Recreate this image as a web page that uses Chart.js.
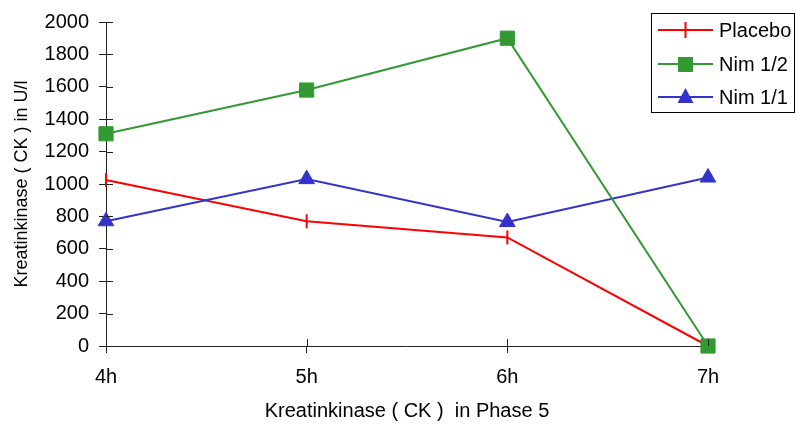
<!DOCTYPE html>
<html>
<head>
<meta charset="utf-8">
<script src="https://cdn.jsdelivr.net/npm/chart.js@4.4.1/dist/chart.umd.min.js"></script>
<style>
  html, body { margin: 0; padding: 0; background: #fff; }
  #wrap { width: 796px; height: 427px; }
</style>
</head>
<body>
<div id="wrap"><canvas id="ckChart" width="796" height="427"></canvas></div>
<script>
// Chart data
const hours = ['4h', '5h', '6h', '7h'];
const placebo = [1025, 770, 670, 0];
const nimHalf = [1310, 1580, 1900, 0];
const nimFull = [770, 1030, 765, 1040];

const yTitle = 'Kreatinkinase ( CK ) in U/l';
const xTitle = 'Kreatinkinase ( CK )  in Phase 5';
const font = 'Liberation Sans, Arial, sans-serif';

// Inner halves of the cross ticks, x-axis title and the boxed legend
const extras = {
    id: 'extras',
    afterDraw(chart) {
        const c = chart.ctx;
        const xs = chart.scales.x, ys = chart.scales.y;
        c.save();
        c.strokeStyle = '#222';
        c.lineWidth = 1;
        c.beginPath();
        ys.ticks.forEach((t, i) => {
            const y = Math.round(ys.getPixelForTick(i)) + 0.5;
            c.moveTo(xs.left, y);
            c.lineTo(xs.left + 7, y);
        });
        xs.ticks.forEach((t, i) => {
            const x = Math.round(xs.getPixelForTick(i)) + 0.5;
            c.moveTo(x, ys.bottom);
            c.lineTo(x, ys.bottom - 7);
        });
        c.stroke();

        c.fillStyle = '#000';
        c.font = '20px ' + font;
        c.textAlign = 'center';
        c.textBaseline = 'middle';
        c.fillText(xTitle, (xs.left + xs.right) / 2, 411);

        // legend
        c.fillStyle = '#fff';
        c.fillRect(651.5, 13.5, 143, 99);
        c.strokeStyle = '#000';
        c.strokeRect(651.5, 13.5, 143, 99);
        const rows = [30, 64, 97];
        chart.data.datasets.forEach((ds, i) => {
            const y = rows[i];
            c.strokeStyle = ds.borderColor;
            c.lineWidth = 2;
            c.beginPath();
            c.moveTo(658, y);
            c.lineTo(713, y);
            c.stroke();
            c.fillStyle = ds.backgroundColor;
            if (ds.pointStyle === 'rect') {
                c.fillRect(678, y - 7, 15, 15);
            } else if (ds.pointStyle === 'triangle') {
                c.beginPath();
                c.moveTo(685.5, y - 9);
                c.lineTo(693.5, y + 6);
                c.lineTo(677.5, y + 6);
                c.closePath();
                c.fill();
            } else {
                c.beginPath();
                c.moveTo(685.5, y - 8);
                c.lineTo(685.5, y + 8);
                c.stroke();
            }
            c.fillStyle = '#000';
            c.textAlign = 'left';
            c.font = '20px ' + font;
            c.fillText(ds.label, 719, y + 1);
        });
        c.restore();
    }
};

const ctx = document.getElementById('ckChart').getContext('2d');
new Chart(ctx, {
    type: 'line',
    data: {
        labels: hours,
        datasets: [{
            label: 'Placebo',
            data: placebo,
            order: 2,
            borderColor: '#ff0000',
            backgroundColor: '#ff0000',
            borderWidth: 2,
            pointStyle: 'line',
            rotation: 90,
            pointRadius: 7,
            pointBorderWidth: 2
        }, {
            label: 'Nim 1/2',
            data: nimHalf,
            order: 0,
            borderColor: '#339933',
            backgroundColor: '#339933',
            borderWidth: 2,
            pointStyle: 'rect',
            pointRadius: 10,
            pointBorderWidth: 1
        }, {
            label: 'Nim 1/1',
            data: nimFull,
            order: 1,
            borderColor: '#3333cc',
            backgroundColor: '#3333cc',
            borderWidth: 2,
            pointStyle: 'triangle',
            pointRadius: 9,
            pointBorderWidth: 1
        }]
    },
    options: {
        responsive: false,
        animation: false,
        clip: false,
        layout: { padding: { top: 21, right: 88, left: 0, bottom: 0 } },
        plugins: {
            legend: { display: false },
            tooltip: { enabled: false }
        },
        elements: { line: { tension: 0 } },
        scales: {
            x: {
                offset: false,
                afterFit: (s) => { s.height = 81; },
                grid: { drawOnChartArea: false, tickLength: 7, color: '#222' },
                border: { color: '#222' },
                ticks: { color: '#000', padding: 12, font: { family: font, size: 20 } }
            },
            y: {
                min: 0,
                max: 2000,
                afterFit: (s) => { s.width = 106; },
                grid: { drawOnChartArea: false, tickLength: 7, color: '#222' },
                border: { color: '#222' },
                ticks: {
                    stepSize: 200,
                    color: '#000',
                    padding: 10,
                    font: { family: font, size: 20 },
                    callback: (v) => String(v)
                },
                title: {
                    display: true,
                    text: yTitle,
                    color: '#000',
                    padding: { top: 11, bottom: 0 },
                    font: { family: font, size: 18 }
                }
            }
        }
    },
    plugins: [extras]
});
</script>
</body>
</html>
